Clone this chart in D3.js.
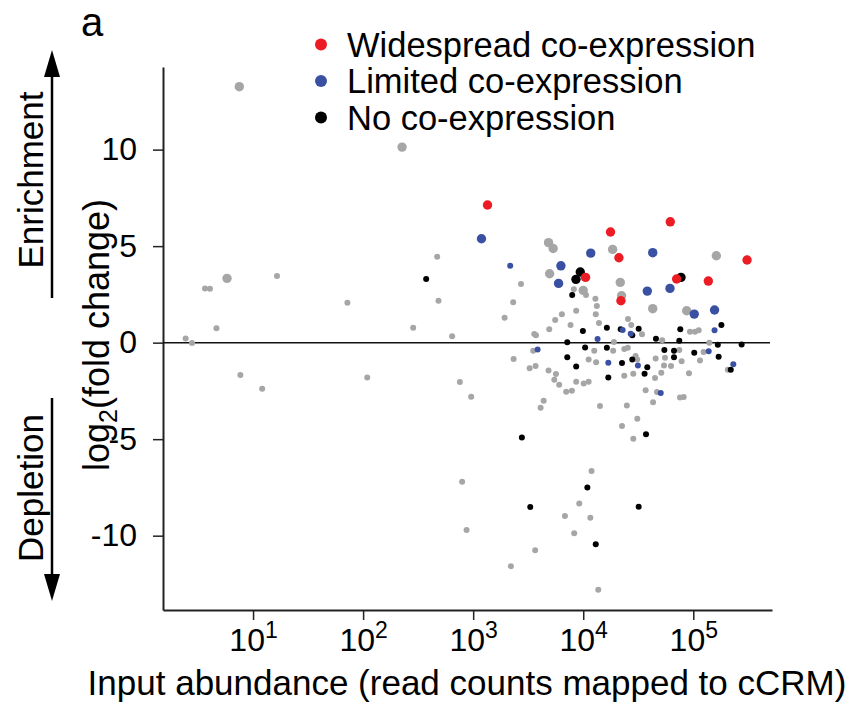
<!DOCTYPE html>
<html><head><meta charset="utf-8">
<script src="https://cdn.jsdelivr.net/npm/d3@7"></script>
<style>body{margin:0;background:#fff}svg{display:block}text{font-family:"Liberation Sans",Arial,Helvetica,sans-serif;fill:#000}</style>
</head><body>
<script>
// ---- data (read counts, log2 fold change) ----
const widespreadCounts = [1350, 61800, 17700, 21100, 308000, 10500, 22000, 70600, 137000];
const widespreadLog2FC = [7.13, 6.26, 5.73, 4.40, 4.28, 3.38, 2.17, 3.30, 3.19];

const limitedCounts = [1190, 11700, 42800, 6270, 5970, 38200, 61400, 102000, 156000,
  2170, 22800, 27000, 156000, 13500, 3850, 16900, 31400, 138000, 231000, 50600];
const limitedLog2FC = [5.38, 4.64, 4.66, 3.98, 3.07, 2.67, 2.81, 1.48, 1.69,
  3.98, 0.65, 0.46, 0.64, 0.19, -0.35, -1.04, -1.19, -0.45, -1.12, -2.61];
const limitedLarge = [1,1,1,1,1,1,1,1,1, 0,0,0,0,0,0,0,0,0,0,0];

const noneCounts = [9400, 8590, 77300,
  374, 7940, 9930, 16400, 21900, 31900, 76200, 74600, 45800, 180000, 7160, 275000, 167000, 27900,
  7160, 8630, 10400, 16400, 16900, 22500, 27900, 38200, 36100, 54600, 66800, 66800, 102000, 170000, 219000,
  37200, 2770, 10900, 3300, 31900, 13000];
const noneLog2FC = [3.66, 3.28, 3.38,
  3.30, 2.47, 0.60, 0.77, 0.70, 0.72, 0.70, 0.10, 0.20, 0.91, 0.02, -0.09, -0.11, 0.38,
  -0.76, -1.23, -0.25, -0.26, -1.80, -1.06, -0.87, -1.28, -1.61, -0.38, -0.42, -0.76, -0.52, -0.73, -1.40,
  -4.74, -4.91, -7.50, -8.52, -8.50, -10.44];
const noneLarge = [1,1,1, 0,0,0,0,0,0,0,0,0,0,0,0,0,0, 0,0,0,0,0,0,0,0,0,0,0,0,0,0,0, 0,0,0,0,0,0];

const otherCounts = [7.5, 226, 5.8, 4840, 5330, 18500, 162000, 4950, 21700, 10000, 22300, 42800, 87100,
  471, 484, 285, 644, 72, 16.5, 3.66, 4.06, 4.65, 2.44, 2.79, 7.67, 12.1, 109, 757, 959, 794, 871,
  11900, 9200, 6820, 11600, 8280, 3660, 2200, 13700,
  10600, 8220, 2720, 2310, 1930, 12900, 13300, 13000, 13900, 8630, 6400, 5560, 4910, 7670, 3590, 3720,
  25500, 27300, 34200, 93300, 103500, 112000, 52200, 19000, 140000,
  3510, 2330, 3260, 3690, 4840, 5650, 5460, 6050, 4370, 4100, 7000, 7890, 8630, 10100, 11200,
  12600, 11200, 13100, 18700, 23600, 25400, 29900, 30900, 28500, 23600, 45500, 55300, 54200, 62700,
  51200, 44900, 78300, 74600, 91400, 115000, 124000, 206000, 36900, 43100, 46800, 75700, 81800,
  14200, 24900, 31000, 22500, 28500];
const otherLog2FC = [13.26, 10.13, 3.33, 5.18, 4.88, 4.83, 4.50, 3.57, 3.12, 2.71, 2.43, 1.76, 1.65,
  4.45, 2.17, 0.77, 0.33, 2.07, 3.45, 2.81, 2.79, 0.74, 0.22, -0.02, -1.68, -2.39, -1.80, -2.04, -2.80, -7.21, -9.71,
  -6.65, -8.33, -8.98, -9.07, -9.87, -10.76, -11.58, -12.80,
  2.47, 2.76, 3.04, 2.09, 1.29, 2.28, 1.90, 1.47, 1.02, 1.65, 1.47, 1.17, 0.70, 0.91, 0.45, 0.38,
  1.22, 0.91, 0.43, 0.56, 0.56, 0.64, 0.13, 0.03, 0.0,
  -0.42, -0.85, -1.32, -1.21, -1.44, -1.63, -1.92, -2.18, -3.01, -3.37, -2.54, -2.49, -2.02, -2.11, -2.02,
  -0.42, -0.87, -1.02, -0.42, -0.33, -0.26, -0.69, -0.87, -1.61, -1.71, -0.82, -0.78, -1.18, -1.21,
  -1.56, -1.83, -0.97, -0.38, -1.59, -0.92, -0.49, -1.40, -2.47, -3.09, -2.56, -2.84, -2.82,
  -3.28, -3.25, -3.94, -4.32, -4.98];
const otherLarge = otherCounts.map((d, i) => i < 13 ? 1 : 0);

const legendLabels = ["Widespread co-expression", "Limited co-expression", "No co-expression"];
const yTicks = [10, 5, 0, -5, -10];
const xTickExponents = [1, 2, 3, 4, 5];

// ---- chart ----
const W = 849, H = 704;
const svg = d3.select("body").append("svg").attr("width", W).attr("height", H);

const x = d3.scaleLog().domain([1.52, 519000]).range([163, 772]);
const y = d3.scaleLinear().domain([-13.85, 14.28]).range([610, 67]);
const r = d3.scaleOrdinal().domain([0, 1]).range([3.0, 4.7]);
const colors = {other: "#a6a6a6", none: "#000000", limited: "#3a51a3", widespread: "#ec1c24"};

// axes
const yAxis = svg.append("g").attr("transform", "translate(163,0)")
  .call(d3.axisLeft(y).tickValues(yTicks).tickSize(10).tickSizeOuter(0).tickPadding(16)
    .tickFormat(d => String(d)));
const xAxis = svg.append("g").attr("transform", "translate(0,610)")
  .call(d3.axisBottom(x).tickValues(xTickExponents.map(e => Math.pow(10, e))).tickSize(10).tickSizeOuter(0).tickFormat(""));
[yAxis, xAxis].forEach(g => {
  g.select(".domain").attr("stroke", "#222").attr("stroke-width", 2);
  g.selectAll(".tick line").attr("stroke", "#222").attr("stroke-width", 1.5);
});
yAxis.selectAll(".tick text").attr("font-size", 32).attr("fill", "#000")
  .style("font-family", "'Liberation Sans', Arial, sans-serif");
xAxis.selectAll(".tick").each(function(d) {
  const t = d3.select(this).append("text").attr("y", 41).attr("text-anchor", "middle")
    .style("font-family", "'Liberation Sans', Arial, sans-serif").attr("fill", "#000");
  t.append("tspan").attr("font-size", 32).text("10");
  t.append("tspan").attr("font-size", 23).attr("dy", -13).text(Math.round(Math.log10(d)));
});

// zero line
svg.append("line").attr("x1", x.range()[0]).attr("x2", 770).attr("y1", y(0)).attr("y2", y(0))
  .attr("stroke", "#111").attr("stroke-width", 1.5);

// points
function group(counts, fc, large, color) {
  return counts.map((c, i) => ({c, v: fc[i], big: large ? large[i] : 1, color}));
}
const layers = [
  group(otherCounts, otherLog2FC, otherLarge, colors.other),
  group(noneCounts, noneLog2FC, noneLarge, colors.none),
  group(limitedCounts, limitedLog2FC, limitedLarge, colors.limited),
  group(widespreadCounts, widespreadLog2FC, null, colors.widespread)
];
layers.forEach(data => {
  svg.append("g").selectAll("circle").data(data).join("circle")
    .attr("cx", d => x(d.c)).attr("cy", d => y(d.v)).attr("r", d => r(d.big))
    .attr("fill", d => d.color);
});

// legend
const legendColors = [colors.widespread, colors.limited, colors.none];
const lg = svg.append("g");
legendLabels.forEach((lab, i) => {
  const cy = 44.5 + i * 36.5;
  lg.append("circle").attr("cx", 321).attr("cy", cy).attr("r", 6).attr("fill", legendColors[i]);
  lg.append("text").attr("x", 347).attr("y", cy + 12).attr("font-size", 34.5).text(lab);
});

// axis titles
svg.append("text").attr("x", 467).attr("y", 695).attr("text-anchor", "middle").attr("font-size", 35)
  .text("Input abundance (read counts mapped to cCRM)");
const yt = svg.append("text").attr("transform", "translate(109,335) rotate(-90)").attr("text-anchor", "middle")
  .attr("font-size", 36);
yt.append("tspan").text("log");
yt.append("tspan").attr("font-size", 25).attr("dy", 8).text("2");
yt.append("tspan").attr("dy", -8).text("(fold change)");

// panel label
svg.append("text").attr("x", 81).attr("y", 36).attr("font-size", 40).text("a");

// side arrows
svg.append("text").attr("transform", "translate(43,180) rotate(-90)").attr("text-anchor", "middle")
  .attr("font-size", 35).text("Enrichment");
svg.append("text").attr("transform", "translate(43,488) rotate(-90)").attr("text-anchor", "middle")
  .attr("font-size", 35).text("Depletion");
const ax = 52;
svg.append("line").attr("x1", ax).attr("x2", ax).attr("y1", 72).attr("y2", 298).attr("stroke", "#000").attr("stroke-width", 2.5);
svg.append("path").attr("d", `M${ax},50 L${ax-8},77 L${ax+8},77 Z`).attr("fill", "#000");
svg.append("line").attr("x1", ax).attr("x2", ax).attr("y1", 398).attr("y2", 578).attr("stroke", "#000").attr("stroke-width", 2.5);
svg.append("path").attr("d", `M${ax},601 L${ax-8},574 L${ax+8},574 Z`).attr("fill", "#000");
</script>
</body></html>
